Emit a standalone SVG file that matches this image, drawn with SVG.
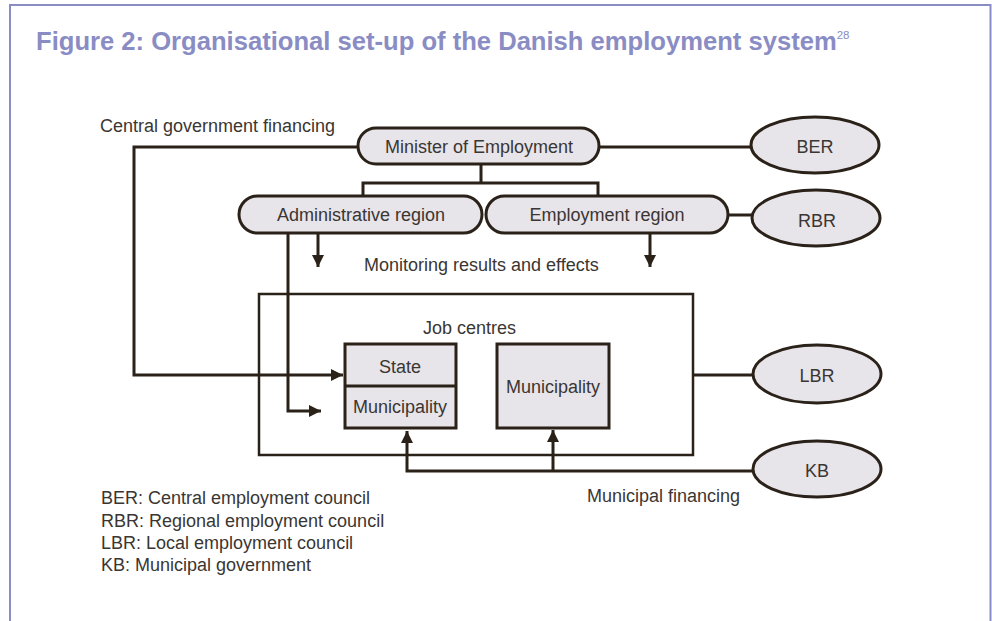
<svg xmlns="http://www.w3.org/2000/svg" width="992" height="621" viewBox="0 0 992 621">
<defs>
<style>
.t{font-family:"Liberation Sans",Arial,sans-serif;font-size:18px;fill:#3a3632}
.m{text-anchor:middle}
.title{font-family:"Liberation Sans",Arial,sans-serif;font-size:25.6px;font-weight:bold;fill:#8a8cc4}
.shape{fill:#e7e4ea;stroke:#2a2119;stroke-width:3}
.ln{fill:none;stroke:#2a2119;stroke-width:3}
.frame{fill:none;stroke:#8a8cc4;stroke-width:2}
</style>
<marker id="ah" viewBox="0 0 10 10" refX="10" refY="5" markerWidth="12" markerHeight="12" markerUnits="userSpaceOnUse" orient="auto">
<path d="M0,0 L10,5 L0,10 Z" fill="#2a2119"/>
</marker>
</defs>
<rect width="992" height="621" fill="#ffffff"/>
<path class="frame" d="M10,621 V5 H990.5 V621"/>
<text class="title" x="36" y="50">Figure 2: Organisational set-up of the Danish employment system<tspan font-size="11.5" dy="-11" font-weight="normal">28</tspan></text>

<g id="connectors">
<path class="ln" d="M358,147 H134 V375 H343" marker-end="url(#ah)"/>
<path class="ln" d="M599,147 H751"/>
<path class="ln" d="M481,164 V183 M363,197 V183 H598 V197"/>
<path class="ln" d="M728,215 H753"/>
<path class="ln" d="M318,233 V267" marker-end="url(#ah)"/>
<path class="ln" d="M650,233 V267" marker-end="url(#ah)"/>
<path class="ln" d="M288,233 V411 H321" marker-end="url(#ah)"/>
<path class="ln" d="M693,375 H753"/>
<path class="ln" d="M753,471 H407 V431" marker-end="url(#ah)"/>
<path class="ln" d="M553,471 V430" marker-end="url(#ah)"/>
</g>

<g id="minister">
<rect class="shape" x="358" y="128" width="241" height="36" rx="18"/>
<text class="t m" x="479" y="153">Minister of Employment</text>
</g>
<g id="ber">
<ellipse class="shape" cx="815" cy="145" rx="64" ry="28"/>
<text class="t m" x="815" y="153">BER</text>
</g>
<g id="admin-region">
<rect class="shape" x="239" y="196" width="243" height="37" rx="18.5"/>
<text class="t m" x="361" y="221">Administrative region</text>
</g>
<g id="employment-region">
<rect class="shape" x="486" y="196" width="242" height="37" rx="18.5"/>
<text class="t m" x="607" y="221">Employment region</text>
</g>
<g id="rbr">
<ellipse class="shape" cx="816" cy="218" rx="64" ry="28"/>
<text class="t m" x="817" y="227">RBR</text>
</g>
<g id="monitoring">
<text class="t" x="364" y="271">Monitoring results and effects</text>
</g>
<g id="central-financing">
<text class="t" x="100" y="132">Central government financing</text>
</g>
<g id="job-centres">
<rect x="259" y="294" width="434" height="161" fill="none" stroke="#2a2119" stroke-width="2.5"/>
<text class="t" x="423" y="334">Job centres</text>
</g>
<g id="state-municipality">
<rect class="shape" x="345" y="344" width="111" height="84"/>
<line x1="345" y1="386" x2="456" y2="386" stroke="#2a2119" stroke-width="3"/>
<text class="t m" x="400" y="373">State</text>
<text class="t m" x="400" y="413">Municipality</text>
</g>
<g id="municipality">
<rect class="shape" x="497" y="344" width="112" height="84"/>
<text class="t m" x="553" y="393">Municipality</text>
</g>
<g id="lbr">
<ellipse class="shape" cx="817" cy="374" rx="64" ry="29"/>
<text class="t m" x="817" y="382">LBR</text>
</g>
<g id="kb">
<ellipse class="shape" cx="817" cy="469" rx="64" ry="28"/>
<text class="t m" x="817" y="477">KB</text>
</g>
<g id="municipal-financing">
<text class="t" x="587" y="502">Municipal financing</text>
</g>
<g id="legend">
<text class="t" x="101" y="504">BER: Central employment council</text>
<text class="t" x="101" y="527">RBR: Regional employment council</text>
<text class="t" x="101" y="549">LBR: Local employment council</text>
<text class="t" x="101" y="571">KB: Municipal government</text>
</g>
</svg>
